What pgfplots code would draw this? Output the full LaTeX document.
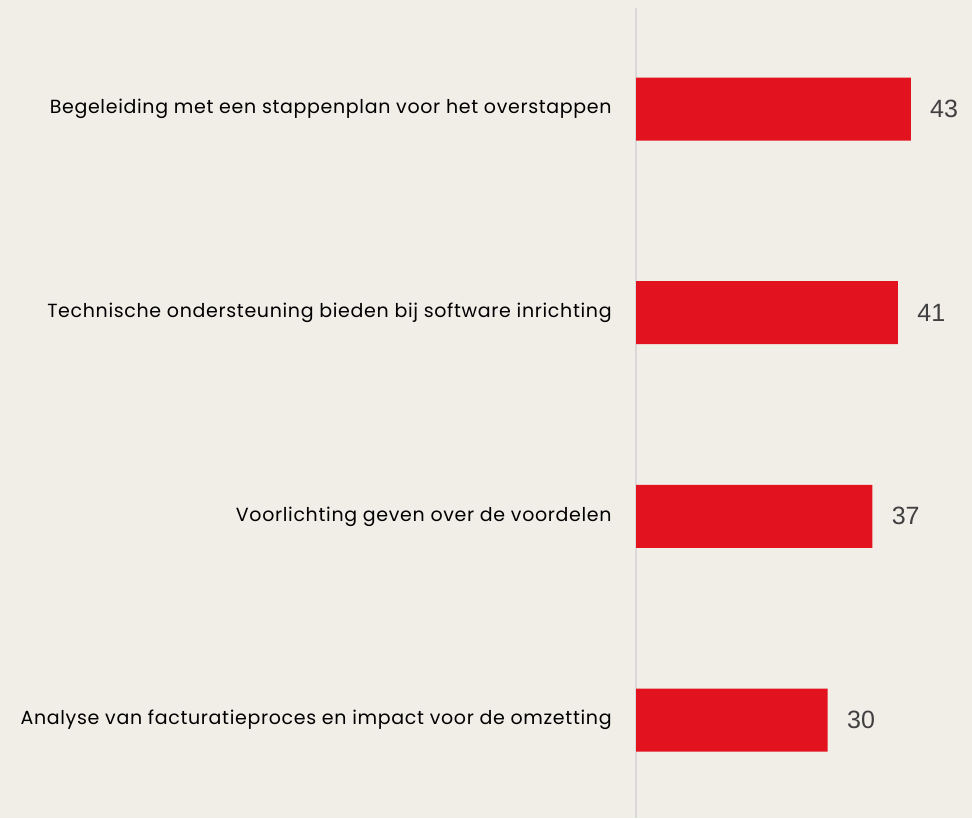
\documentclass[border=0pt]{standalone}
\usepackage{pgfplots}
\pgfplotsset{compat=1.18}
\usepackage{fontspec}
\setmainfont{Poppins}[LetterSpace=3.5]
\newfontfamily\valfont{Liberation Sans}
\definecolor{bgc}{HTML}{F1EEE8}
\definecolor{barred}{HTML}{E2131E}
\definecolor{axgray}{HTML}{D9D9D9}
\definecolor{valgray}{HTML}{404040}
\begin{document}
\begin{tikzpicture}
\fill[bgc] (0,0) rectangle (486pt,409pt);
\begin{axis}[
  at={(318pt,0pt)}, anchor=south west,
  scale only axis, width=159.75pt, height=405pt,
  xmin=0, xmax=50, ymin=-0.481, ymax=3.496,
  axis lines=left,
  x axis line style={draw=none},
  y axis line style={draw=axgray, line width=1pt, -},
  xtick=\empty,
  ytick={0,1,2,3},
  yticklabels={Analyse van facturatieproces en impact voor de omzetting,
    Voorlichting geven over de voordelen,
    Technische ondersteuning bieden bij software inrichting,
    Begeleiding met een stappenplan voor het overstappen},
  major tick length=0pt,
  yticklabel style={font=\fontsize{9.5}{10}\selectfont, anchor=east, inner sep=0pt, xshift=-12pt},
  xbar, bar width=31.5pt,
  /pgf/number format/assume math mode=true,
  nodes near coords,
  nodes near coords style={font=\valfont\fontsize{12.5}{14}\selectfont, text=valgray, anchor=west, inner sep=0pt, xshift=9.5pt},
  clip=false,
]
\addplot[fill=barred, draw=none] coordinates {(30,0) (37,1) (41,2) (43,3)};
\end{axis}
\end{tikzpicture}
\end{document}
